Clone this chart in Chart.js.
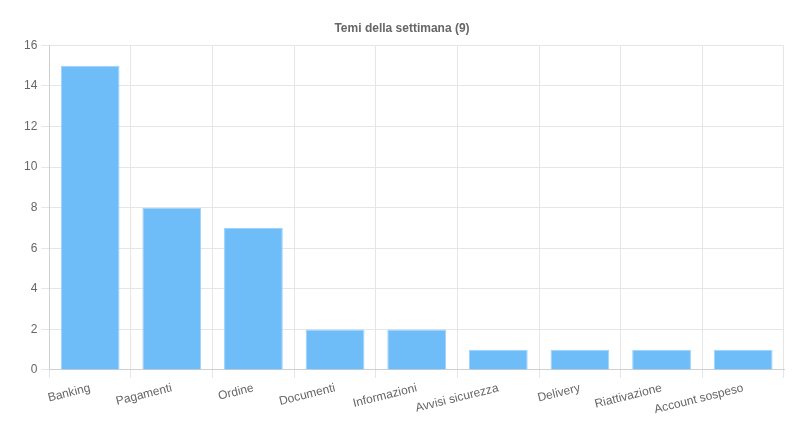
<!DOCTYPE html>
<html>
<head>
<meta charset="utf-8">
<script src="https://cdn.jsdelivr.net/npm/chart.js@4"></script>
<style>
  html, body { margin: 0; padding: 0; background: #fff; }
  #wrap { width: 809px; height: 441px; }
</style>
</head>
<body>
<div id="wrap"><canvas id="myChart" width="809" height="441"></canvas></div>
<script>
// data
const categories = [
  "Banking",
  "Pagamenti",
  "Ordine",
  "Documenti",
  "Informazioni",
  "Avvisi sicurezza",
  "Delivery",
  "Riattivazione",
  "Account sospeso",
];
const counts = [15, 8, 7, 2, 2, 1, 1, 1, 1];
const yTicks = [0, 2, 4, 6, 8, 10, 12, 14, 16];

Chart.defaults.font.family = "'Liberation Sans', Arial, sans-serif";
Chart.defaults.font.size = 12;
Chart.defaults.color = "#666666";

function initChart() {
  const ctx = document.getElementById("myChart");
  if (!ctx) return;

  new Chart(ctx, {
    type: "bar",
    data: {
      labels: categories,
      datasets: [
        {
          label: "Temi",
          data: counts,
          backgroundColor: "#6ebdf9",
          borderColor: "#9fd2fb",
          borderWidth: 1,
        },
      ],
    },
    options: {
      responsive: false,
      animation: false,
      layout: {
        padding: { left: 20, right: 25, top: 11, bottom: 21 },
      },
      scales: {
        y: {
          min: yTicks[0],
          max: yTicks[yTicks.length - 1],
          ticks: {
            stepSize: 2,
            color: "#666666",
            padding: 4,
          },
          grid: {
            color: "#e6e6e6",
            tickLength: 8,
          },
          border: { color: "#d0d0d0" },
        },
        x: {
          ticks: {
            color: "#666666",
            autoSkip: false,
          },
          grid: {
            color: "#e6e6e6",
            tickLength: 8,
          },
          border: { color: "#d0d0d0" },
        },
      },
      plugins: {
        legend: { display: false },
        tooltip: { enabled: false },
        title: {
          display: true,
          text: "Temi della settimana (9)",
          color: "#666666",
          font: { size: 12, weight: "bold" },
          padding: { top: 10, bottom: 10 },
        },
      },
    },
  });
}

document.addEventListener("DOMContentLoaded", initChart);
</script>
</body>
</html>
